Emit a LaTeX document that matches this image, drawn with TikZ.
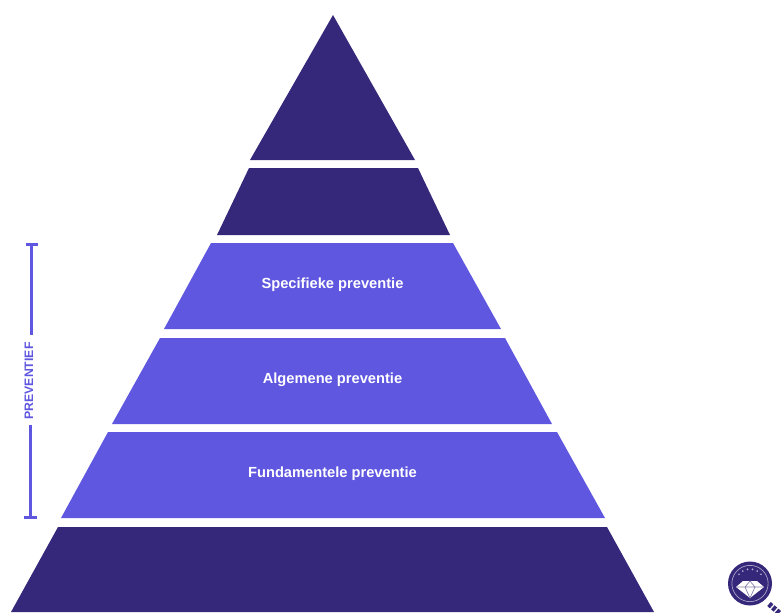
\documentclass[tikz,border=0pt]{standalone}
\usepackage{fontspec}
\setmainfont{Liberation Sans}
\definecolor{donker}{HTML}{35287A}
\definecolor{licht}{HTML}{5F57E0}
\tikzset{
  laag/.style={fill=#1, draw=none},
  label/.style={text=white, font=\bfseries\fontsize{11pt}{13pt}\selectfont},
  zijlijn/.style={draw=licht, line width=2.25pt},
}
\begin{document}
\begin{tikzpicture}[x=0.75pt,y=-0.75pt]
    \useasboundingbox (0,0) rectangle (781,612);
    % pyramide
    \fill[laag=donker] (333,15) -- (415,160) -- (250,160) -- cycle;
    \fill[laag=donker] (249,168) -- (418,168) -- (450,235) -- (217,235) -- cycle;
    \fill[laag=licht] (211,243) -- (453,243) -- (501,329) -- (164,329) -- cycle;
    \fill[laag=licht] (160,338) -- (505,338) -- (552,424) -- (112,424) -- cycle;
    \fill[laag=licht] (108,432) -- (557,432) -- (605,518) -- (61,518) -- cycle;
    \fill[laag=donker] (58,527) -- (607,527) -- (654,612) -- (11,612) -- cycle;
    \node[label] (S) at (332.5,285) {Specifieke preventie};
    \node[label] (A) at (332.5,379.5) {Algemene preventie};
    \node[label] (F) at (332.5,473.5) {Fundamentele preventie};
    % zijlijn
    \node[rotate=90, text=licht, inner sep=2pt, font=\bfseries\fontsize{9.2pt}{10pt}\selectfont] (P) at (29,381) {PREVENTIEF};
    \coordinate (T) at (31.5,244.5);
    \coordinate (T2) at (31.5,335);
    \coordinate (B) at (30.5,517.5);
    \coordinate (B2) at (30.5,425);
    \draw[zijlijn] (T) -- (T2);
    \draw[zijlijn] (B2) -- (B);
    \draw[zijlijn] ([xshift=-4.5pt]T) -- ([xshift=4.5pt]T);
    \draw[zijlijn] ([xshift=-4.7pt]B) -- ([xshift=4.7pt]B);
    % logo
    \node[circle, fill=donker, draw=none, minimum size=33pt, inner sep=0pt] (L) at (750,583.5) {};
    \draw[white!60!donker, line width=0.5pt] (L) circle (13.6pt);
    \foreach \a in {40,60,...,140}
      \fill[white!65!donker] (L) ++(\a:10.8pt) circle (0.7pt);
    \fill[white] (743,581) -- (757,581) -- (764,587) -- (750,598) -- (736,587) -- cycle;
    \draw[donker!60!white, line width=0.5pt] (736,587) -- (764,587) (745,587) -- (750,598) -- (755,587) (745,587) -- (750,581) -- (755,587);
    \draw[donker, line width=4pt, dash pattern=on 2.6pt off 1.2pt] (769,604) -- (785,618);
\end{tikzpicture}
\end{document}
